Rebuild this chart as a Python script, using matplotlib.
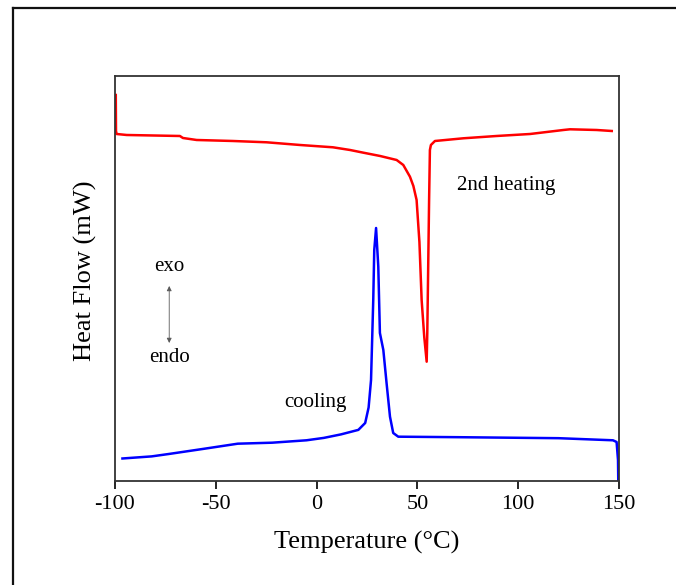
import matplotlib

matplotlib.use("Agg")
import matplotlib.pyplot as plt
from matplotlib.lines import Line2D

plt.rcParams["font.family"] = ["Liberation Serif", "DejaVu Serif"]

# 2nd heating (red), temperature in degC, heat flow in mW (arbitrary offset)
heat_t = [-99.6, -99.5, -99.2, -94.2, -67.8, -66.3, -59.5, -41.5, -24.8, -8.2,
          8.1, 16.6, 23.2, 31.5, 39.7, 43.0, 46.3, 48.0, 49.6, 51.0, 52.1, 53.4,
          54.6, 54.9, 55.4, 55.8, 56.2, 56.7, 58.7, 72.8, 89.3, 105.9, 122.4,
          125.7, 138.9, 146.4]
heat_hf = [3.87, 3.51, 3.48, 3.47, 3.46, 3.44, 3.42, 3.41, 3.397, 3.37,
           3.347, 3.32, 3.293, 3.26, 3.22, 3.17, 3.053, 2.96, 2.82, 2.40, 1.82, 1.45,
           1.203, 1.49, 2.22, 2.82, 3.32, 3.37, 3.41, 3.437, 3.46, 3.48, 3.52,
           3.527, 3.52, 3.51]

# cooling (blue)
cool_t = [-96.3, -81.8, -73.3, -56.2, -39.1, -22.0, -5.0, 3.6, 12.1, 20.7,
          24.1, 25.8, 27.0, 28.1, 28.6, 29.5, 30.6, 31.4, 33.1, 34.7, 36.4,
          38.0, 40.5, 70.0, 120.0, 147.0, 148.8, 149.5, 149.7]
cool_hf = [0.235, 0.256, 0.28, 0.331, 0.383, 0.393, 0.417, 0.441, 0.476, 0.521,
           0.59, 0.745, 1.02, 1.82, 2.32, 2.54, 2.153, 1.49, 1.32, 0.99, 0.653,
           0.49, 0.453, 0.448, 0.438, 0.417, 0.40, 0.22, -0.1]

xticks = [-100, -50, 0, 50, 100, 150]

fig = plt.figure(figsize=(6.76, 5.85), dpi=100)
ax = fig.add_axes([0.1701, 0.1778, 0.7456, 0.6923])

ax.plot(heat_t, heat_hf, color="#ff0000", lw=1.8)
ax.plot(cool_t, cool_hf, color="#0000ff", lw=1.8)

ax.set_xlim(-100, 150)
ax.set_ylim(0.01, 4.06)
ax.set_xticks(xticks)
ax.set_xticklabels([str(t) for t in xticks])
ax.set_yticks([])
ax.tick_params(axis="x", direction="out", length=6, width=1.2, labelsize=16, pad=4)
for s in ax.spines.values():
    s.set_color("#333333")
    s.set_linewidth(1.3)

ax.set_xlabel("Temperature (°C)", fontsize=19, labelpad=12)
ax.set_ylabel("Heat Flow (mW)", fontsize=19)
ax.yaxis.set_label_coords(-0.036, 0.52)

ax.text(93.9, 2.96, "2nd heating", fontsize=15, ha="center", va="center")
ax.text(-0.8, 0.79, "cooling", fontsize=15, ha="center", va="center")
ax.text(-73.1, 2.15, "exo", fontsize=15, ha="center", va="center")
ax.text(-73.1, 1.24, "endo", fontsize=15, ha="center", va="center")
ax.annotate("", xy=(-73.1, 1.96), xytext=(-73.1, 1.39),
            arrowprops=dict(arrowstyle="<|-|>", color="0.35", lw=0.6,
                            mutation_scale=7, shrinkA=0, shrinkB=0))

# outer frame of the original figure panel
x0 = 13 / 676
y1 = 1 - 8 / 585
fig.add_artist(Line2D([x0, x0], [0, y1], color="#111111", lw=1.6))
fig.add_artist(Line2D([x0, 1], [y1, y1], color="#111111", lw=1.6))

fig.savefig("out.png", dpi=100)
